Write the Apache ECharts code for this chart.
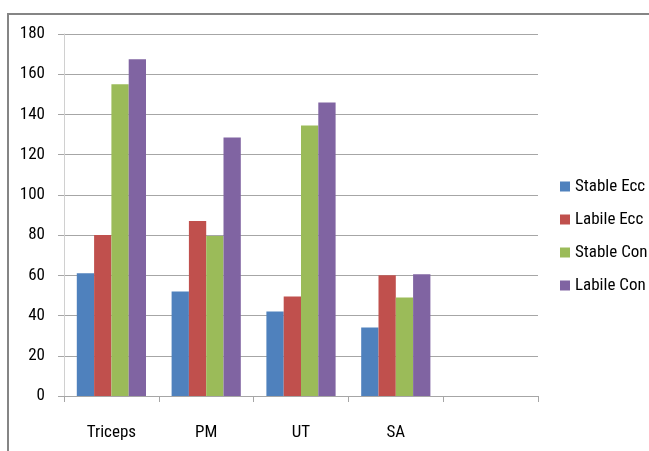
<!DOCTYPE html>
<html><head><meta charset="utf-8">
<script src="https://cdn.jsdelivr.net/npm/echarts@6/dist/echarts.min.js"></script>
<style>html,body{margin:0;padding:0;background:#fff}#c{width:649px;height:451px}</style>
</head><body><div id="c"></div>
<script>
const categories = ['Triceps', 'PM', 'UT', 'SA', ''];
const seriesNames = ['Stable Ecc', 'Labile Ecc', 'Stable Con', 'Labile Con'];
const stableEcc = [61, 52, 42, 34, null];
const labileEcc = [80, 87, 49.5, 60, null];
const stableCon = [155, 79.5, 134.5, 49, null];
const labileCon = [167.5, 128.5, 146, 60.5, null];
const yTicks = { min: 0, max: 180, interval: 20 };
const colors = ['#4F81BD', '#C0504D', '#9BBB59', '#8064A2'];
const FONT = '"Roboto Condensed", "Liberation Sans", sans-serif';

const values = [stableEcc, labileEcc, stableCon, labileCon];
const chart = echarts.init(document.getElementById('c'), null, { renderer: 'canvas' });
chart.setOption({
  animation: false,
  backgroundColor: '#fff',
  grid: { left: 64, top: 34, width: 474, height: 362, containLabel: false },
  graphic: [{
    type: 'rect', shape: { x: 8, y: 14, width: 700, height: 500 },
    style: { fill: 'none', stroke: '#858585', lineWidth: 2 }, silent: true, z: 0
  }],
  legend: {
    orient: 'vertical', left: 555, top: 173, itemGap: 16,
    itemWidth: 10, itemHeight: 10, icon: 'rect',
    textStyle: { fontFamily: FONT, fontSize: 17, color: '#000' },
    data: seriesNames
  },
  xAxis: {
    type: 'category', data: categories,
    axisLine: { lineStyle: { color: '#a6a6a6', width: 1 } },
    axisTick: { show: true, length: 6, alignWithLabel: false, lineStyle: { color: '#a6a6a6' } },
    axisLabel: { fontFamily: FONT, fontSize: 17, color: '#000', margin: 28 },
    splitLine: { show: false }
  },
  yAxis: {
    type: 'value', min: yTicks.min, max: yTicks.max, interval: yTicks.interval,
    axisLine: { show: true, lineStyle: { color: '#d0d0d0', width: 1 } },
    axisTick: { show: true, length: 6, lineStyle: { color: '#a6a6a6' } },
    axisLabel: { fontFamily: FONT, fontSize: 17, color: '#000', margin: 19 },
    splitLine: { show: true, lineStyle: { color: '#a6a6a6', width: 1 } }
  },
  series: seriesNames.map((n, i) => ({
    name: n, type: 'bar', data: values[i],
    barGap: '0%', barCategoryGap: '27%',
    itemStyle: { color: colors[i] }
  }))
});
</script></body></html>
